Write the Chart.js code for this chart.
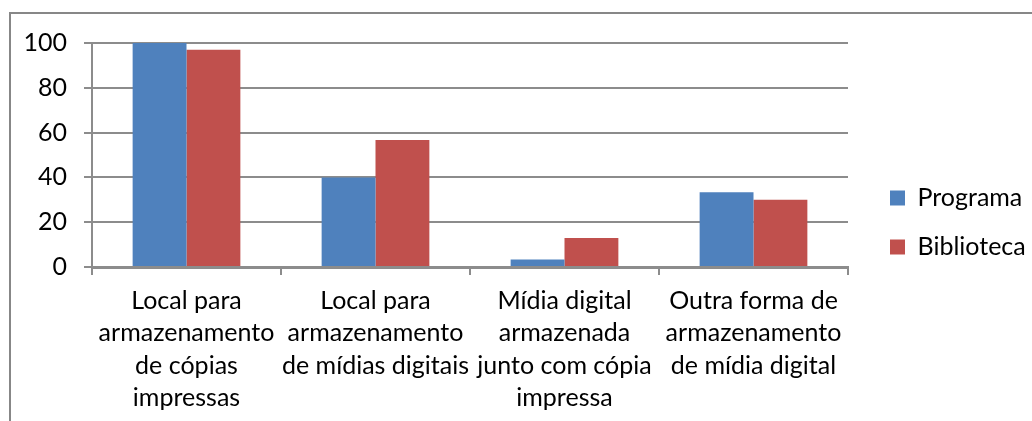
<!DOCTYPE html>
<html lang="pt">
<head>
<meta charset="UTF-8">
<title>Armazenamento de mídias</title>
<script src="https://cdn.jsdelivr.net/npm/chart.js"></script>
<style>
    body { margin: 0; background: #fff; }
    #frame { position: absolute; left: 9px; top: 12px; width: 1100px; height: 500px; border: 2px solid #878787; }
    #wrap { position: absolute; left: 0; top: 0; width: 1032px; height: 421px; }
</style>
</head>
<body>
<div id="frame"></div>
<div id="wrap"><canvas id="chart" width="1032" height="421"></canvas></div>
<script>
    // dados
    const categorias = [
        ['Local para', 'armazenamento', 'de cópias', 'impressas'],
        ['Local para', 'armazenamento', 'de mídias digitais'],
        ['Mídia digital', 'armazenada', 'junto com cópia', 'impressa'],
        ['Outra forma de', 'armazenamento', 'de mídia digital']
    ];
    const programa = [100, 40, 3.3, 33.4];
    const biblioteca = [97, 56.7, 13, 30];
    const ticksY = [0, 20, 40, 60, 80, 100];

    const cinza = '#8c8c8c';
    const fonte = { family: 'Lato', size: 25 };

    new Chart(document.getElementById('chart'), {
        type: 'bar',
        data: {
            labels: categorias,
            datasets: [
                { label: 'Programa', data: programa, backgroundColor: '#4f81bd', borderWidth: 0 },
                { label: 'Biblioteca', data: biblioteca, backgroundColor: '#c0504d', borderWidth: 0 }
            ]
        },
        options: {
            responsive: false,
            animation: false,
            layout: { padding: { top: 24, bottom: 0, left: 0, right: 0 } },
            datasets: { bar: { categoryPercentage: 0.57, barPercentage: 1 } },
            scales: {
                x: {
                    grid: { drawOnChartArea: false, drawTicks: true, tickLength: 8, color: cinza, lineWidth: 2, offset: true },
                    border: { color: cinza, width: 3 },
                    ticks: { color: '#000', font: { ...fonte, lineHeight: 1.29 }, padding: 10, maxRotation: 0, autoSkip: false },
                    afterFit: s => { s.height = 154; }
                },
                y: {
                    min: 0, max: 100,
                    afterBuildTicks: s => { s.ticks = ticksY.map(v => ({ value: v })); },
                    grid: { color: cinza, lineWidth: 2, tickLength: 8 },
                    border: { color: cinza, width: 2 },
                    ticks: { color: '#000', font: fonte, padding: 17 },
                    afterFit: s => { s.width = 92; }
                },
                // espaços vazios: acima do gráfico e entre o gráfico e a legenda
                topo: {
                    type: 'category', position: 'top', display: true,
                    grid: { display: false }, ticks: { display: false }, border: { display: false },
                    afterFit: s => { s.height = 19; }
                },
                gap: {
                    type: 'linear', position: 'right', display: true,
                    grid: { display: false }, ticks: { display: false }, border: { display: false },
                    afterFit: s => { s.width = 18; }
                }
            },
            plugins: {
                legend: {
                    position: 'right',
                    maxWidth: 166,
                    labels: { color: '#000', font: fonte, boxWidth: 15, boxHeight: 15, padding: 24 }
                },
                tooltip: { enabled: false }
            }
        }
    });
</script>
</body>
</html>
